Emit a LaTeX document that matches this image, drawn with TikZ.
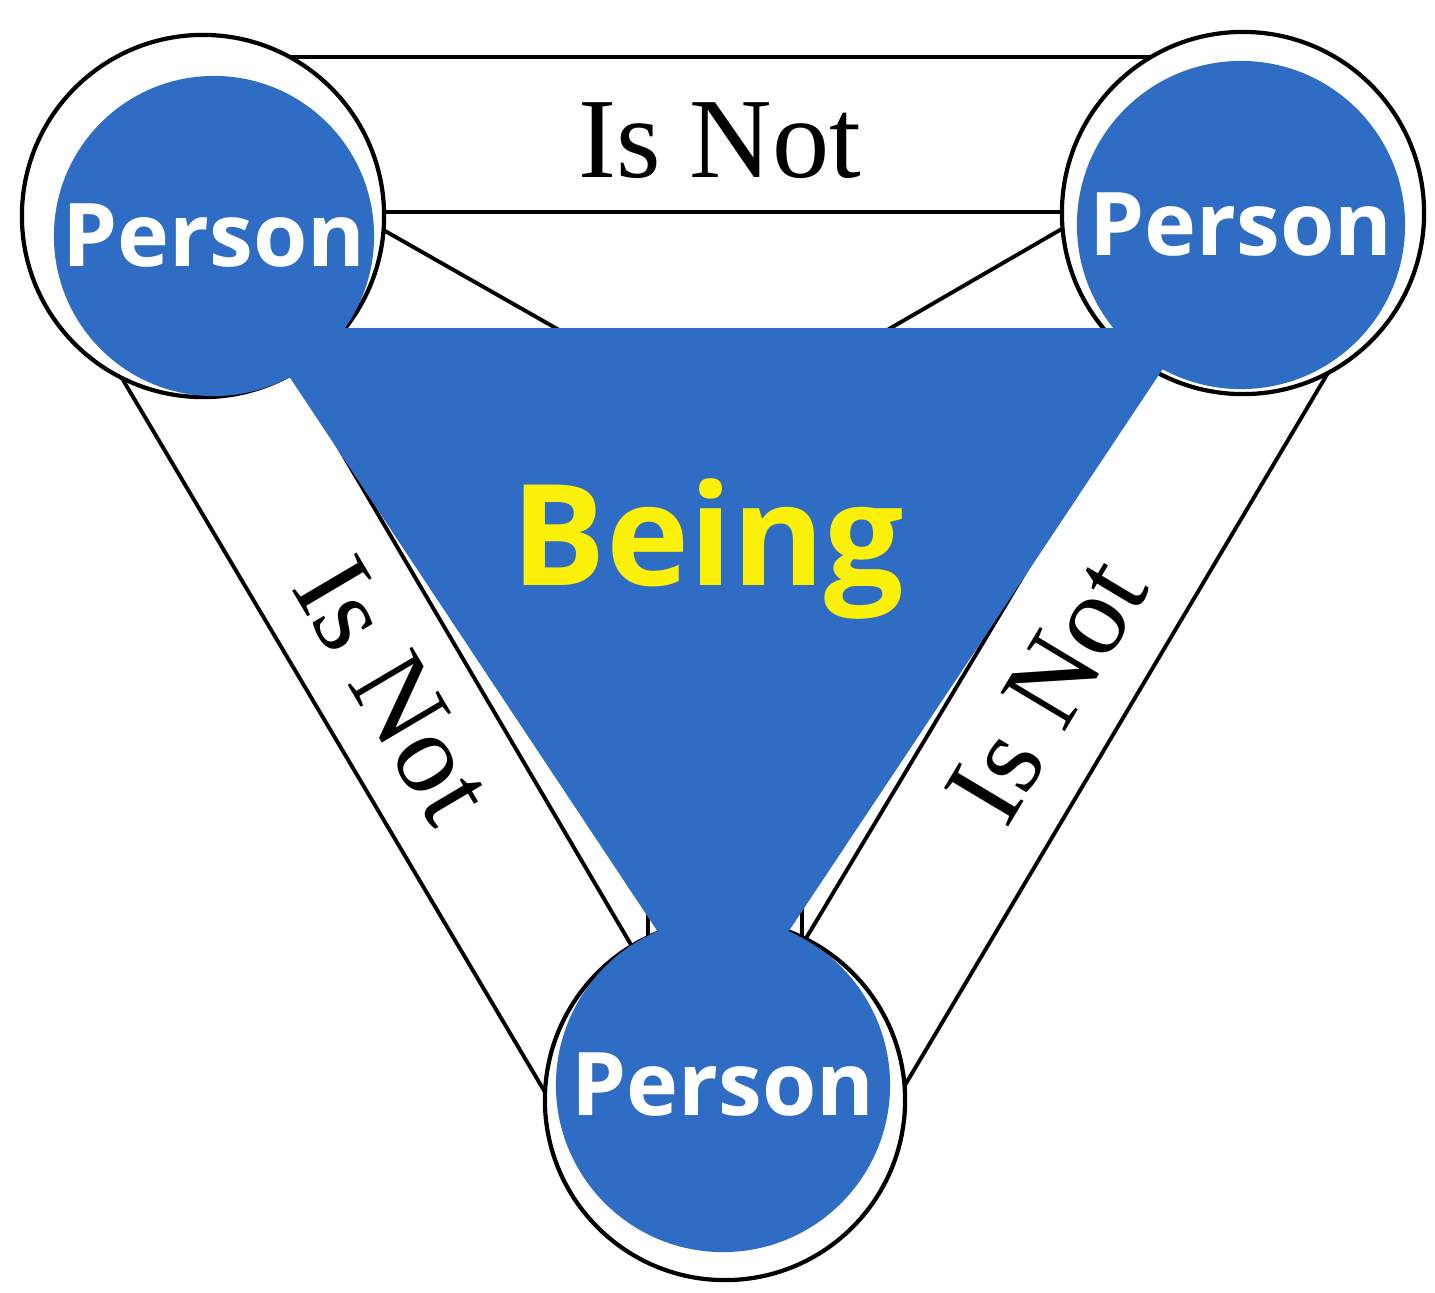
\documentclass[tikz,border=0pt]{standalone}
\usepackage{fontspec}
\setmainfont{Liberation Serif}
\newfontfamily\labelfont{Open Sans}
\usepackage{xcolor}
\usetikzlibrary{calc}
\definecolor{shieldblue}{RGB}{47,108,196}
\definecolor{beingyellow}{RGB}{250,240,10}

\begin{document}
\begin{tikzpicture}[x=0.01cm,y=-0.01cm,
  ring/.style={circle,draw,line width=1.2pt,fill=white,inner sep=0pt},
  person/.style={circle,fill=shieldblue,inner sep=0pt,text=white,font=\labelfont\bfseries\fontsize{25}{30}\selectfont},
  edge/.style={line width=1.1pt},
  isnot/.style={inner sep=0pt,font=\fontsize{32.5}{36}\selectfont}]
  \useasboundingbox (0,0) rectangle (1435,1293);
  \fill[white] (0,0) rectangle (1435,1293);

  % centres of the three rings and of the hidden hub
  \coordinate (cTL) at (203,216);
  \coordinate (cTR) at (1243,213);
  \coordinate (cB) at (725,1100);
  \coordinate (hub) at (725,513);

  % spokes to the hub (mostly under the triangle)
  \foreach \c in {cTL,cTR,cB}{
    \draw[edge] ($(\c)!0.77cm!90:(hub)$) -- ($(hub)!0.77cm!-90:(\c)$);
    \draw[edge] ($(\c)!0.77cm!-90:(hub)$) -- ($(hub)!0.77cm!90:(\c)$);
  }

  % bands between the rings
  \coordinate (tO1) at (200,57);   \coordinate (tO2) at (1250,57);
  \coordinate (tI1) at (200,212);  \coordinate (tI2) at (1250,212);
  \coordinate (lO1) at (110,358);  \coordinate (lO2) at (555,1109);
  \coordinate (lI1) at (255,305);  \coordinate (lI2) at (640,960);
  \coordinate (rO1) at (1335,361); \coordinate (rO2) at (895,1102);
  \coordinate (rI1) at (1205,272); \coordinate (rI2) at (799,950);
  \draw[edge] (tO1) -- (tO2);
  \draw[edge] (tI1) -- (tI2);
  \draw[edge] (lO1) -- (lO2);
  \draw[edge] (lI1) -- (lI2);
  \draw[edge] (rO1) -- (rO2);
  \draw[edge] (rI1) -- (rI2);

  \node[isnot] (lblTop) at (720,141) {Is Not};
  \node[isnot,rotate=-59.4] (lblLeft) at (394,690) {Is Not};
  \node[isnot,rotate=59.1] (lblRight) at (1047,690) {Is Not};

  % rings
  \node[ring,minimum size=3.62cm] (ringTL) at (cTL) {};
  \node[ring,minimum size=3.62cm] (ringTR) at (cTR) {};
  \node[ring,minimum size=3.6cm] (ringB) at (cB) {};

  % the triangle
  \coordinate (triL) at (257,328);
  \coordinate (triR) at (1190,328);
  \coordinate (triB) at (723,1030);
  \fill[shieldblue] (triL) -- (triR) -- (triB) -- cycle;

  \node[person,minimum size=3.2cm] (personTL) at (214,236) {Person};
  \node[person,minimum size=3.28cm] (personTR) at (1241,225) {Person};
  \node[person,minimum size=3.34cm] (personB) at (723,1085) {Person};

  \node[anchor=base,text=beingyellow,font=\labelfont\bfseries\fontsize{40}{44}\selectfont] (being) at (708,585) {Being};
\end{tikzpicture}
\end{document}
